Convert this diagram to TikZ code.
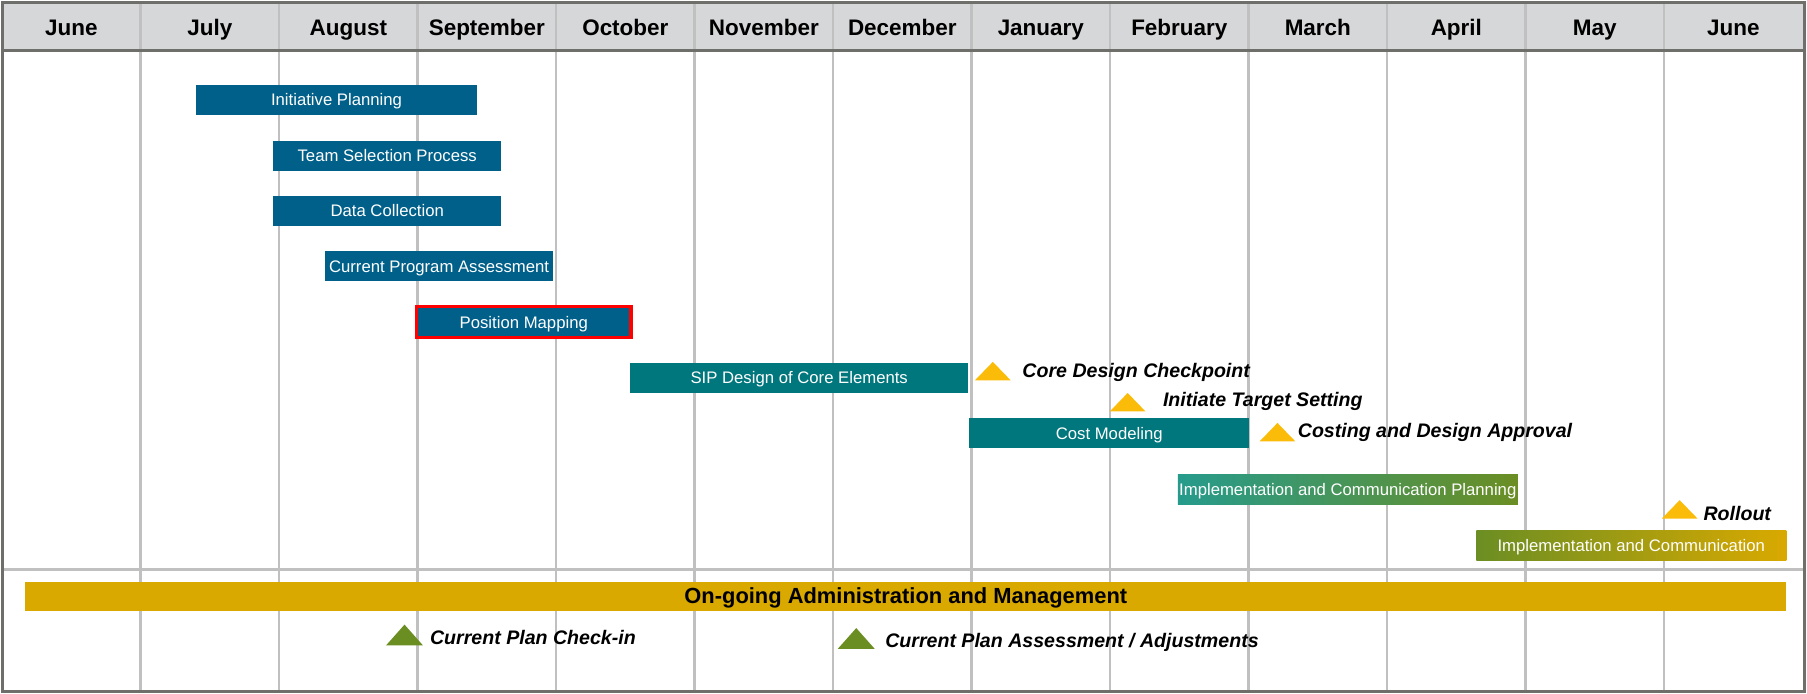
\documentclass[tikz,border=0pt]{standalone}
\usepackage{fontspec}
\setmainfont{Liberation Sans}
\definecolor{hdrfill}{RGB}{214,215,217}
\definecolor{framec}{RGB}{110,111,106}
\definecolor{gridc}{RGB}{192,192,192}
\definecolor{navy}{RGB}{0,96,137}
\definecolor{tealc}{RGB}{0,118,125}
\definecolor{tealg}{RGB}{38,155,140}
\definecolor{oliveg}{RGB}{107,142,35}
\definecolor{goldc}{RGB}{217,169,0}
\definecolor{ambr}{RGB}{251,188,9}
\tikzset{
  gridline/.style={draw=gridc, line width=2pt},
  month/.style={anchor=base, font=\fontsize{19.5}{22}\selectfont\bfseries, text=black},
  barbase/.style={minimum height=26pt, inner sep=0pt, text=white, text height=12.5pt, text depth=2.2pt, font=\fontsize{14.5}{16}\selectfont},
  darkbar/.style={barbase, fill=navy},
  tealbar/.style={barbase, fill=tealc},
  ms/.style={anchor=base west, inner sep=0pt, font=\fontsize{17}{19}\selectfont\bfseries\itshape, text=black},
  ytri/.style={fill=ambr},
  gtri/.style={fill=oliveg}
}
\begin{document}
\begin{tikzpicture}[x=1pt,y=-1pt]
\useasboundingbox (0,0) rectangle (1568,602);
% header
\fill[hdrfill] (2,2) rectangle (1566,44);
% grid
\foreach \i in {1,...,12}
  \draw[gridline] ({1.82+120.18*\i},2) -- ({1.82+120.18*\i},600);
\draw[gridline, line width=2.6pt] (2,494) -- (1566,494);
% months
\foreach \m [count=\i] in {June,July,August,September,October,November,December,January,February,March,April,May,June}
  \node[month] (m\i) at ({1.82+120.18*(\i-0.5)},30.5) {\m};
% frame
\draw[framec, line width=2.6pt] (2,44) -- (1566,44);
\draw[framec, line width=2.6pt] (2,2) rectangle (1566,600);
% bars
\node[darkbar, minimum width=244pt] (ip) at (292,86.5) {Initiative Planning};
\node[darkbar, minimum width=198pt] (tsp) at (336,135) {Team Selection Process};
\node[darkbar, minimum width=198pt] (dc) at (336,183) {Data Collection};
\node[darkbar, minimum width=198pt] (cpa) at (381,231) {Current Program Assessment};
\node[darkbar, minimum width=186pt, minimum height=27pt, draw=red, line width=3pt] (pm) at (454.5,279.5) {Position Mapping};
\node[tealbar, minimum width=293pt] (sip) at (693.5,328) {SIP Design of Core Elements};
\node[tealbar, minimum width=243pt] (cm) at (962.5,376) {Cost Modeling};
\node[barbase, minimum width=295pt, left color=tealg, right color=oliveg] (icp) at (1169.5,424.5) {Implementation and Communication Planning};
\node[barbase, minimum width=269pt, left color=oliveg, right color=goldc] (ic) at (1415.5,473) {Implementation and Communication};
\node[barbase, minimum width=1528pt, minimum height=25pt, fill=goldc, text=black, text height=15.5pt, text depth=3pt, font=\fontsize{19}{21}\selectfont\bfseries] (oam) at (786,517.5) {On-going Administration and Management};
% milestones
\fill[ytri] (846,330) -- (877,330) -- (861.5,314) -- cycle;
\node[ms] (cdc) at (887,328) {Core Design Checkpoint};
\fill[ytri] (963,357) -- (994,357) -- (978.5,341) -- cycle;
\node[ms] (its) at (1009,353) {Initiate Target Setting};
\fill[ytri] (1093,383) -- (1124,383) -- (1108.5,367) -- cycle;
\node[ms] (cda) at (1126,380) {Costing and Design Approval};
\fill[ytri] (1442,450) -- (1473,450) -- (1457.5,434) -- cycle;
\node[ms] (ro) at (1478,452) {Rollout};
\fill[gtri] (335,560) -- (367,560) -- (351,542) -- cycle;
\node[ms] (pci) at (373,559) {Current Plan Check-in};
\fill[gtri] (727,563) -- (759,563) -- (743,545) -- cycle;
\node[ms] (paa) at (768,562) {Current Plan Assessment / Adjustments};
\end{tikzpicture}
\end{document}
